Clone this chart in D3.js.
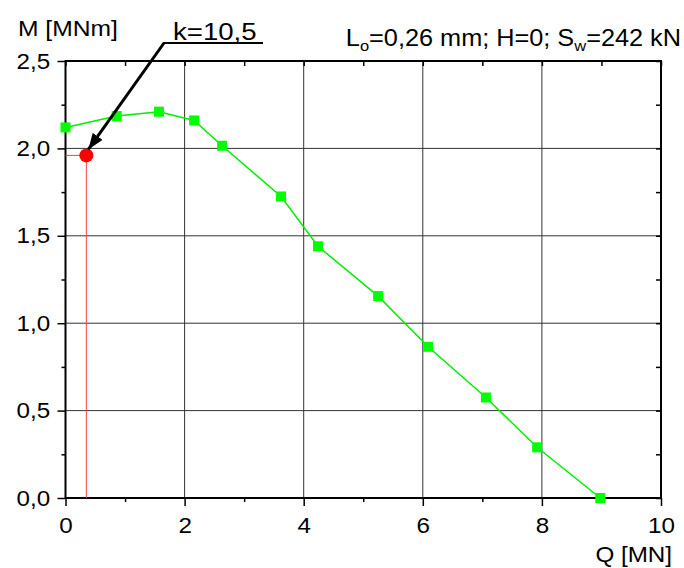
<!DOCTYPE html>
<meta charset="utf-8">
<style>
body { margin: 0; background: #fff; }
text { font-family: "Liberation Sans", Arial, sans-serif; fill: #000; }
.grid line { stroke: #333; stroke-width: 1; }
.axis path { display: none; }
.axis line { stroke: #000; stroke-width: 1.5; }
.curve { fill: none; stroke: #00ee00; stroke-width: 1.5; }
.pt { fill: #00ff00; }
</style>
<svg width="684" height="568"></svg>
<script src="https://d3js.org/d3.v7.min.js"></script>
<script>

// data
var qValues = [0, 0.86, 1.57, 2.16, 2.63, 3.62, 4.24, 5.25, 6.09, 7.06, 7.92, 8.98];
var mValues = [2.12, 2.185, 2.21, 2.16, 2.015, 1.725, 1.44, 1.155, 0.865, 0.575, 0.29, 0.0];
var kPoint = [0.35, 1.96];
var xMajor = [0, 2, 4, 6, 8, 10];
var xMinor = [1, 3, 5, 7, 9];
var yMajor = [0, 0.5, 1.0, 1.5, 2.0, 2.5];
var yMinor = [0.25, 0.75, 1.25, 1.75, 2.25];

var svg = d3.select("svg");
var stretch = 1.1;

var x = d3.scaleLinear().domain([0, 10]).range([65.5, 661]);
var y = d3.scaleLinear().domain([0, 2.5]).range([498, 61]);

var fmtY = function(d) { return d3.format(".1f")(d).replace(".", ","); };

// grid
svg.append("g").attr("class", "grid")
  .selectAll("line").data(xMajor.slice(1, -1)).enter().append("line")
    .attr("x1", x).attr("x2", x).attr("y1", y(0)).attr("y2", y(2.5));
svg.append("g").attr("class", "grid")
  .selectAll("line").data(yMajor.slice(1, -1)).enter().append("line")
    .attr("y1", y).attr("y2", y).attr("x1", x(0)).attr("x2", x(10));

// axes: major + minor ticks
function addAxis(axis, tr) {
  return svg.append("g").attr("class", "axis")
    .attr("transform", tr).call(axis);
}

var gl = addAxis(d3.axisLeft(y).tickValues(yMajor).tickSize(8).tickPadding(6).tickFormat(fmtY), "translate(" + x(0) + ",0)");
addAxis(d3.axisLeft(y).tickValues(yMinor).tickSize(4).tickFormat(""), "translate(" + x(0) + ",0)");
var gb = addAxis(d3.axisBottom(x).tickValues(xMajor).tickSize(8).tickPadding(11).tickFormat(d3.format("d")), "translate(0," + y(0) + ")");
addAxis(d3.axisBottom(x).tickValues(xMinor).tickSize(4).tickFormat(""), "translate(0," + y(0) + ")");
addAxis(d3.axisTop(x).tickValues(xMajor.concat(xMinor)).tickSize(-5).tickFormat(""), "translate(0," + y(2.5) + ")");
addAxis(d3.axisRight(y).tickValues(yMajor.concat(yMinor)).tickSize(-5).tickFormat(""), "translate(" + x(10) + ",0)");

gl.selectAll("text").style("font-size", "22px").attr("transform", "scale(" + stretch + ",1)");
gb.selectAll("text").style("font-size", "22px").attr("transform", "scale(" + stretch + ",1)");

// frame
svg.append("rect")
  .attr("x", x(0)).attr("y", y(2.5))
  .attr("width", x(10) - x(0)).attr("height", y(0) - y(2.5))
  .attr("fill", "none").attr("stroke", "#000").attr("stroke-width", 2);

// red drop lines + point
svg.append("line").attr("stroke", "#ff4040").attr("stroke-width", 1)
  .attr("x1", x(kPoint[0])).attr("x2", x(kPoint[0])).attr("y1", y(kPoint[1])).attr("y2", y(0));
svg.append("line").attr("stroke", "#ff4040").attr("stroke-width", 1)
  .attr("x1", x(0)).attr("x2", x(kPoint[0])).attr("y1", y(kPoint[1])).attr("y2", y(kPoint[1]));

// curve
var pts = qValues.map(function(q, i) { return [q, mValues[i]]; });
svg.append("path").attr("class", "curve")
  .attr("d", d3.line().x(function(d) { return x(d[0]); }).y(function(d) { return y(d[1]); })(pts));
svg.append("g").selectAll("rect").data(pts).enter().append("rect")
  .attr("class", "pt")
  .attr("x", function(d) { return x(d[0]) - 5; })
  .attr("y", function(d) { return y(d[1]) - 5; })
  .attr("width", 10).attr("height", 10);

svg.append("circle").attr("cx", x(kPoint[0])).attr("cy", y(kPoint[1])).attr("r", 7).attr("fill", "#ff0000");

// arrow annotation
svg.append("defs").append("marker")
  .attr("id", "head").attr("markerUnits", "userSpaceOnUse")
  .attr("viewBox", "0 -6 16 12").attr("refX", 16).attr("refY", 0)
  .attr("markerWidth", 16).attr("markerHeight", 12).attr("orient", "auto")
  .append("path").attr("d", "M0,-6L16,0L0,6Z").attr("fill", "#000");

svg.append("line").attr("stroke", "#000").attr("stroke-width", 2)
  .attr("x1", 263).attr("x2", 163).attr("y1", 43).attr("y2", 43);
svg.append("line").attr("stroke", "#000").attr("stroke-width", 3)
  .attr("x1", 164).attr("y1", 43).attr("x2", x(kPoint[0]) + 2).attr("y2", y(kPoint[1]) - 6)
  .attr("marker-end", "url(#head)");

// labels
function label(px, py, txt, size, anchor, sx) {
  return svg.append("text")
    .attr("transform", "translate(" + px + "," + py + ") scale(" + (sx || stretch) + ",1)")
    .attr("text-anchor", anchor || "start")
    .style("font-size", size + "px")
    .text(txt);
}

label(18, 36, "M [MNm]", 22, "start", 1.12);
label(672, 562, "Q [MN]", 22, "end");
label(173, 40, "k=10,5", 24, "start", 1.15);

var hdr = svg.append("text")
  .attr("transform", "translate(681,46) scale(" + stretch + ",1)")
  .attr("text-anchor", "end")
  .style("font-size", "23px");
hdr.append("tspan").text("L");
hdr.append("tspan").attr("dy", 5).style("font-size", "15px").text("o");
hdr.append("tspan").attr("dy", -5).text("=0,26 mm; H=0; S");
hdr.append("tspan").attr("dy", 5).style("font-size", "15px").text("w");
hdr.append("tspan").attr("dy", -5).text("=242 kN");

</script>
